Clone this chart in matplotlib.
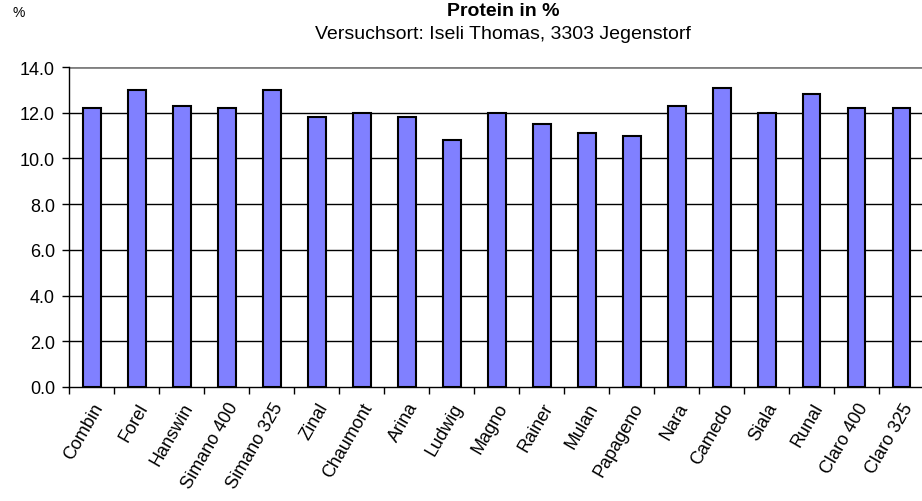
import matplotlib.pyplot as plt
import numpy as np

plt.rcParams['font.family'] = ['Liberation Sans', 'DejaVu Sans']

sorten = ["Combin", "Forel", "Hanswin", "Simano 400", "Simano 325", "Zinal",
          "Chaumont", "Arina", "Ludwig", "Magno", "Rainer", "Mulan", "Papageno",
          "Nara", "Camedo", "Siala", "Runal", "Claro 400", "Claro 325"]
protein = [12.2, 13.0, 12.3, 12.2, 13.0, 11.8, 12.0, 11.8, 10.8, 12.0, 11.5,
           11.1, 11.0, 12.3, 13.1, 12.0, 12.8, 12.2, 12.2]
yticks = [0, 2, 4, 6, 8, 10, 12, 14]

fig = plt.figure(figsize=(9.22, 5.02), dpi=100)
ax = fig.add_axes([69 / 922, (502 - 388) / 502, 855 / 922, 320 / 502])

x = np.arange(len(sorten))
ax.bar(x, protein, width=0.4, color="#8080ff", edgecolor="black",
       linewidth=1.5, zorder=3)

ax.set_xlim(-0.5, len(sorten) - 0.5)
ax.set_ylim(0, 14)
ax.set_yticks(yticks)
ax.set_yticklabels(["%.1f" % v for v in yticks], fontsize=13)
for v in yticks[1:-1]:
    ax.axhline(v, color="black", linewidth=1, zorder=1)
ax.axhline(14, color="#808080", linewidth=2, zorder=1)

ax.set_xticks(x)
ax.set_xticklabels(sorten, rotation=60, ha="right", rotation_mode="anchor",
                   fontsize=13)
ax.set_xticks(np.arange(len(sorten) + 1) - 0.5, minor=True)
ax.tick_params(axis="x", which="major", length=0, pad=9)
ax.tick_params(axis="x", which="minor", length=5, width=1, direction="out")
ax.tick_params(axis="y", length=5, width=1, direction="out", pad=5)

for side in ["top", "right"]:
    ax.spines[side].set_visible(False)
ax.spines["left"].set_linewidth(1)
ax.spines["bottom"].set_linewidth(1)

fig.text(503 / 922, 1 - 11 / 502, "Protein in %", ha="center", va="center",
         fontsize=14, fontweight="bold")
fig.text(503 / 922, 1 - 35 / 502, "Versuchsort: Iseli Thomas, 3303 Jegenstorf",
         ha="center", va="center", fontsize=14)
fig.text(12 / 922, 1 - 13 / 502, "%", ha="left", va="center", fontsize=10)

plt.savefig("out.png", dpi=100)
plt.close()
